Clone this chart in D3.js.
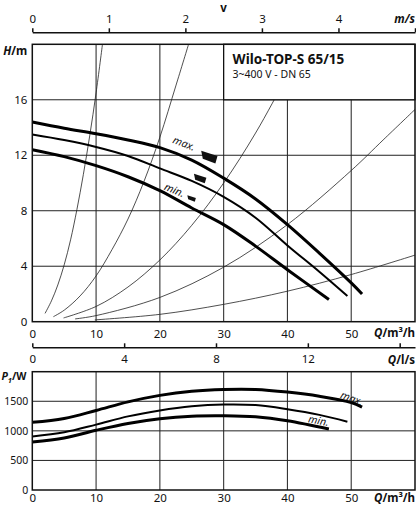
<!DOCTYPE html>
<html>
<head>
<meta charset="utf-8">
<script src="https://cdn.jsdelivr.net/npm/d3@7"></script>
<style>
  body { margin: 0; background: #fff; }
  svg { display: block; }
  text { font-family: "Noto Sans", sans-serif; fill: #111; }
</style>
</head>
<body>
<div id="chart"></div>
<script>
// flow values Q in m3/h
var qMax = [0, 5, 10, 15, 20, 25, 30, 35, 40, 45, 50, 51.7],
    hMax = [14.4, 13.95, 13.55, 13.1, 12.55, 11.65, 10.35, 8.85, 7.0, 4.95, 2.8, 2.0];
var qMid = [0, 5, 10, 15, 20, 25, 30, 35, 40, 45, 49.4],
    hMid = [13.5, 13.1, 12.6, 11.95, 11.05, 10.15, 9.0, 7.5, 5.5, 3.6, 1.85];
var qMin = [0, 5, 10, 15, 20, 25, 30, 35, 40, 46.5],
    hMin = [12.4, 11.9, 11.25, 10.45, 9.45, 8.2, 7.0, 5.45, 3.75, 1.6];

// thin system curves
var sysCurves = [
    [[2, 0.6], [3, 1.5], [4, 2.65], [5, 4.1], [6, 5.9], [7, 8.1], [8, 10.6], [9, 13.4], [10, 16.5], [11, 20]],
    [[3.3, 0.36], [5, 0.83], [7.5, 1.86], [10, 3.3], [12.5, 5.2], [15, 7.4], [17.5, 10.1], [20, 13.3], [22.5, 17.0], [24.5, 20]],
    [[4.9, 0.27], [10, 1.1], [15, 2.5], [20, 4.45], [25, 6.95], [30, 10.0], [35, 13.6], [40, 17.8], [42.4, 20]],
    [[6.7, 0.2], [10, 0.44], [20, 1.75], [30, 3.93], [40, 7.0], [50, 10.9], [55, 13.1], [60, 15.3]],
    [[9.8, 0.13], [20, 0.53], [30, 1.25], [40, 2.2], [50, 3.4], [60, 4.8]]
];

// power input P1 in W
var qPMax = [0, 5, 10, 15, 20, 25, 30, 35, 40, 45, 50, 51.7],
    pMax = [1145, 1210, 1345, 1490, 1600, 1670, 1700, 1700, 1655, 1585, 1480, 1400];
var qPMid = [0, 5, 10, 15, 20, 25, 30, 35, 40, 45, 49.4],
    pMid = [905, 975, 1105, 1245, 1345, 1415, 1445, 1435, 1365, 1270, 1155];
var qPMin = [0, 5, 10, 15, 20, 25, 30, 35, 40, 46.5],
    pMin = [810, 880, 1010, 1125, 1205, 1248, 1255, 1238, 1170, 1030];

var qTicks = [0, 10, 20, 30, 40, 50],
    hTicks = [0, 4, 8, 12, 16],
    pTicks = [0, 500, 1000, 1500],
    vTicks = [0, 1, 2, 3, 4, 5],
    lsTicks = [0, 4, 8, 12, 16];

var markerQ = [27.8, 26.35, 25.0],
    markerH = [11.9, 10.35, 8.9];

var title = "Wilo-TOP-S 65/15",
    subtitle = "3~400 V - DN 65";

var width = 416,
    height = 508,
    fs = 11.5;

var x = d3.scaleLinear().domain([0, 60]).range([32.3, 415]),
    yH = d3.scaleLinear().domain([0, 20]).range([321.7, 44.3]),
    yP = d3.scaleLinear().domain([0, 2000]).range([490, 371.7]),
    xV = d3.scaleLinear().domain([0, 5]).range([32.3, 415]),
    xL = d3.scaleLinear().domain([0, 60 / 3.6]).range([32.3, 415]);

var svg = d3.select("#chart").append("svg").attr("width", width).attr("height", height);

var zip = function(qs, vs) {
    return qs.map(function(q, i) { return [q, vs[i]]; });
};

var styleAxis = function(g, size) {
    g.selectAll("text").style("font-size", (size || fs) + "px").attr("fill", "#111");
    g.selectAll("path, line").attr("stroke", "#111").attr("stroke-width", 1.5);
};

// ---------- velocity axis on top ----------
var vAxis = svg.append("g").attr("transform", "translate(0,32.3)")
    .call(d3.axisTop(xV).tickValues(vTicks).tickSizeInner(4).tickSizeOuter(0).tickPadding(5)
        .tickFormat(function(d) { return d < 5 ? d : ""; }));
styleAxis(vAxis);
svg.append("text").attr("x", xV(2.5)).attr("y", 12).attr("text-anchor", "middle")
    .style("font-size", fs + "px").style("font-weight", "bold").text("v");
svg.append("text").attr("x", 415).attr("y", 23.3).attr("text-anchor", "end")
    .style("font-size", fs + "px").style("font-weight", "bold").style("font-style", "italic").text("m/s");

// ---------- H chart ----------
var chartH = svg.append("g");

chartH.selectAll("line.vgrid").data(qTicks.slice(1)).enter().append("line")
    .attr("x1", function(d) { return x(d); }).attr("x2", function(d) { return x(d); })
    .attr("y1", yH(0)).attr("y2", yH(20))
    .attr("stroke", "#333").attr("stroke-width", 1.1);
chartH.selectAll("line.hgrid").data(hTicks.slice(1)).enter().append("line")
    .attr("x1", x(0)).attr("x2", x(60))
    .attr("y1", function(d) { return yH(d); }).attr("y2", function(d) { return yH(d); })
    .attr("stroke", "#222").attr("stroke-width", 1);

svg.append("clipPath").attr("id", "clipH").append("rect")
    .attr("x", x(0)).attr("y", yH(20)).attr("width", x(60) - x(0)).attr("height", yH(0) - yH(20));

var lineH = d3.line().x(function(d) { return x(d[0]); }).y(function(d) { return yH(d[1]); })
    .curve(d3.curveCatmullRom.alpha(0.5));

chartH.append("g").attr("clip-path", "url(#clipH)").selectAll("path").data(sysCurves).enter().append("path")
    .attr("d", lineH).attr("fill", "none").attr("stroke", "#222").attr("stroke-width", 0.8);

// type box
chartH.append("rect").attr("x", x(30)).attr("y", yH(20))
    .attr("width", x(60) - x(30)).attr("height", yH(16) - yH(20))
    .attr("fill", "#fff").attr("stroke", "#111").attr("stroke-width", 1.3);
chartH.append("text").attr("x", x(31.4)).attr("y", 64)
    .style("font-size", "13.5px").style("font-weight", "bold").text(title);
chartH.append("text").attr("x", x(31.4)).attr("y", 77.5)
    .style("font-size", "10.5px").text(subtitle);

// pump curves
var pumpH = [
    { pts: zip(qMax, hMax), w: 3 },
    { pts: zip(qMid, hMid), w: 2 },
    { pts: zip(qMin, hMin), w: 3 }
];
chartH.selectAll("path.pump").data(pumpH).enter().append("path")
    .attr("d", function(d) { return lineH(d.pts); })
    .attr("fill", "none").attr("stroke", "#000").attr("stroke-width", function(d) { return d.w; });

// speed markers
var markerShape = [[-8, -5.5], [7.5, -0.5], [5.5, 6.5], [-6.5, 2]],
    markerScale = [1.05, 0.8, 0.55];
chartH.selectAll("path.marker").data(markerQ).enter().append("path")
    .attr("d", function(d, i) {
        var cx = x(d), cy = yH(markerH[i]), s = markerScale[i];
        return "M" + markerShape.map(function(p) { return (cx + p[0] * s) + "," + (cy + p[1] * s); }).join("L") + "Z";
    })
    .attr("fill", "#111");

chartH.append("text").attr("transform", "translate(" + x(23.8) + "," + yH(12.85) + ") rotate(21)")
    .attr("text-anchor", "middle").attr("dy", "0.35em")
    .style("font-size", "10.5px").style("font-style", "italic").text("max.");
chartH.append("text").attr("transform", "translate(" + x(22.3) + "," + yH(9.5) + ") rotate(22)")
    .attr("text-anchor", "middle").attr("dy", "0.35em")
    .style("font-size", "10.5px").style("font-style", "italic").text("min.");

chartH.append("rect").attr("x", x(0)).attr("y", yH(20))
    .attr("width", x(60) - x(0)).attr("height", yH(0) - yH(20))
    .attr("fill", "none").attr("stroke", "#111").attr("stroke-width", 1.5);

var xAxisH = chartH.append("g").attr("transform", "translate(0," + yH(0) + ")")
    .call(d3.axisBottom(x).tickValues(qTicks).tickSize(0).tickPadding(8));
xAxisH.select(".domain").remove();
styleAxis(xAxisH);
var yAxisH = chartH.append("g").attr("transform", "translate(" + x(0) + ",0)")
    .call(d3.axisLeft(yH).tickValues(hTicks).tickSize(0).tickPadding(5));
yAxisH.select(".domain").remove();
styleAxis(yAxisH);

var hLabel = chartH.append("text").attr("x", 27.3).attr("y", 55).attr("text-anchor", "end")
    .style("font-size", fs + "px").style("font-weight", "bold");
hLabel.append("tspan").style("font-style", "italic").text("H");
hLabel.append("tspan").text("/m");

var qLabel = function(g, yBase) {
    var t = g.append("text").attr("x", 415).attr("y", yBase).attr("text-anchor", "end")
        .style("font-size", fs + "px").style("font-weight", "bold");
    t.append("tspan").style("font-style", "italic").text("Q");
    t.append("tspan").text("/m³/h");
};
qLabel(chartH, 336.5);

// ---------- l/s axis ----------
var lsAxis = svg.append("g").attr("transform", "translate(0,347.3)")
    .call(d3.axisBottom(xL).tickValues(lsTicks).tickSizeInner(-4).tickSizeOuter(0).tickPadding(8)
        .tickFormat(function(d) { return d < 16 ? d : ""; }));
styleAxis(lsAxis);
var lsLabel = svg.append("text").attr("x", 415).attr("y", 364).attr("text-anchor", "end")
    .style("font-size", fs + "px").style("font-weight", "bold");
lsLabel.append("tspan").style("font-style", "italic").text("Q");
lsLabel.append("tspan").text("/l/s");

// ---------- P1 chart ----------
var chartP = svg.append("g");
chartP.selectAll("line.vgrid").data(qTicks.slice(1)).enter().append("line")
    .attr("x1", function(d) { return x(d); }).attr("x2", function(d) { return x(d); })
    .attr("y1", yP(0)).attr("y2", yP(2000))
    .attr("stroke", "#333").attr("stroke-width", 1.1);
chartP.selectAll("line.hgrid").data(pTicks.slice(1)).enter().append("line")
    .attr("x1", x(0)).attr("x2", x(60))
    .attr("y1", function(d) { return yP(d); }).attr("y2", function(d) { return yP(d); })
    .attr("stroke", "#222").attr("stroke-width", 1);

var lineP = d3.line().x(function(d) { return x(d[0]); }).y(function(d) { return yP(d[1]); })
    .curve(d3.curveCatmullRom.alpha(0.5));
var pumpP = [
    { pts: zip(qPMax, pMax), w: 3 },
    { pts: zip(qPMid, pMid), w: 2 },
    { pts: zip(qPMin, pMin), w: 3 }
];
chartP.selectAll("path.pump").data(pumpP).enter().append("path")
    .attr("d", function(d) { return lineP(d.pts); })
    .attr("fill", "none").attr("stroke", "#000").attr("stroke-width", function(d) { return d.w; });

chartP.append("text").attr("transform", "translate(" + x(50.1) + "," + yP(1550) + ") rotate(20)")
    .attr("text-anchor", "middle").attr("dy", "0.35em")
    .style("font-size", "10.5px").style("font-style", "italic").text("max.");
chartP.append("text").attr("transform", "translate(" + x(44.9) + "," + yP(1175) + ") rotate(11)")
    .attr("text-anchor", "middle").attr("dy", "0.35em")
    .style("font-size", "10.5px").style("font-style", "italic").text("min.");

chartP.append("rect").attr("x", x(0)).attr("y", yP(2000))
    .attr("width", x(60) - x(0)).attr("height", yP(0) - yP(2000))
    .attr("fill", "none").attr("stroke", "#111").attr("stroke-width", 1.5);

var xAxisP = chartP.append("g").attr("transform", "translate(0," + yP(0) + ")")
    .call(d3.axisBottom(x).tickValues(qTicks).tickSize(0).tickPadding(4));
xAxisP.select(".domain").remove();
styleAxis(xAxisP);
var yAxisP = chartP.append("g").attr("transform", "translate(" + x(0) + ",0)")
    .call(d3.axisLeft(yP).tickValues(pTicks).tickSize(0).tickPadding(4).tickFormat(d3.format("d")));
yAxisP.select(".domain").remove();
styleAxis(yAxisP, 10.5);

var pLabel = chartP.append("text").attr("x", 26.5).attr("y", 380).attr("text-anchor", "end")
    .style("font-size", "10.5px").style("font-weight", "bold");
pLabel.append("tspan").style("font-style", "italic").text("P");
pLabel.append("tspan").attr("dy", 3).style("font-size", "7.5px").style("font-style", "italic").text("1");
pLabel.append("tspan").attr("dy", -3).text("/W");
qLabel(chartP, 502);
</script>
</body>
</html>
